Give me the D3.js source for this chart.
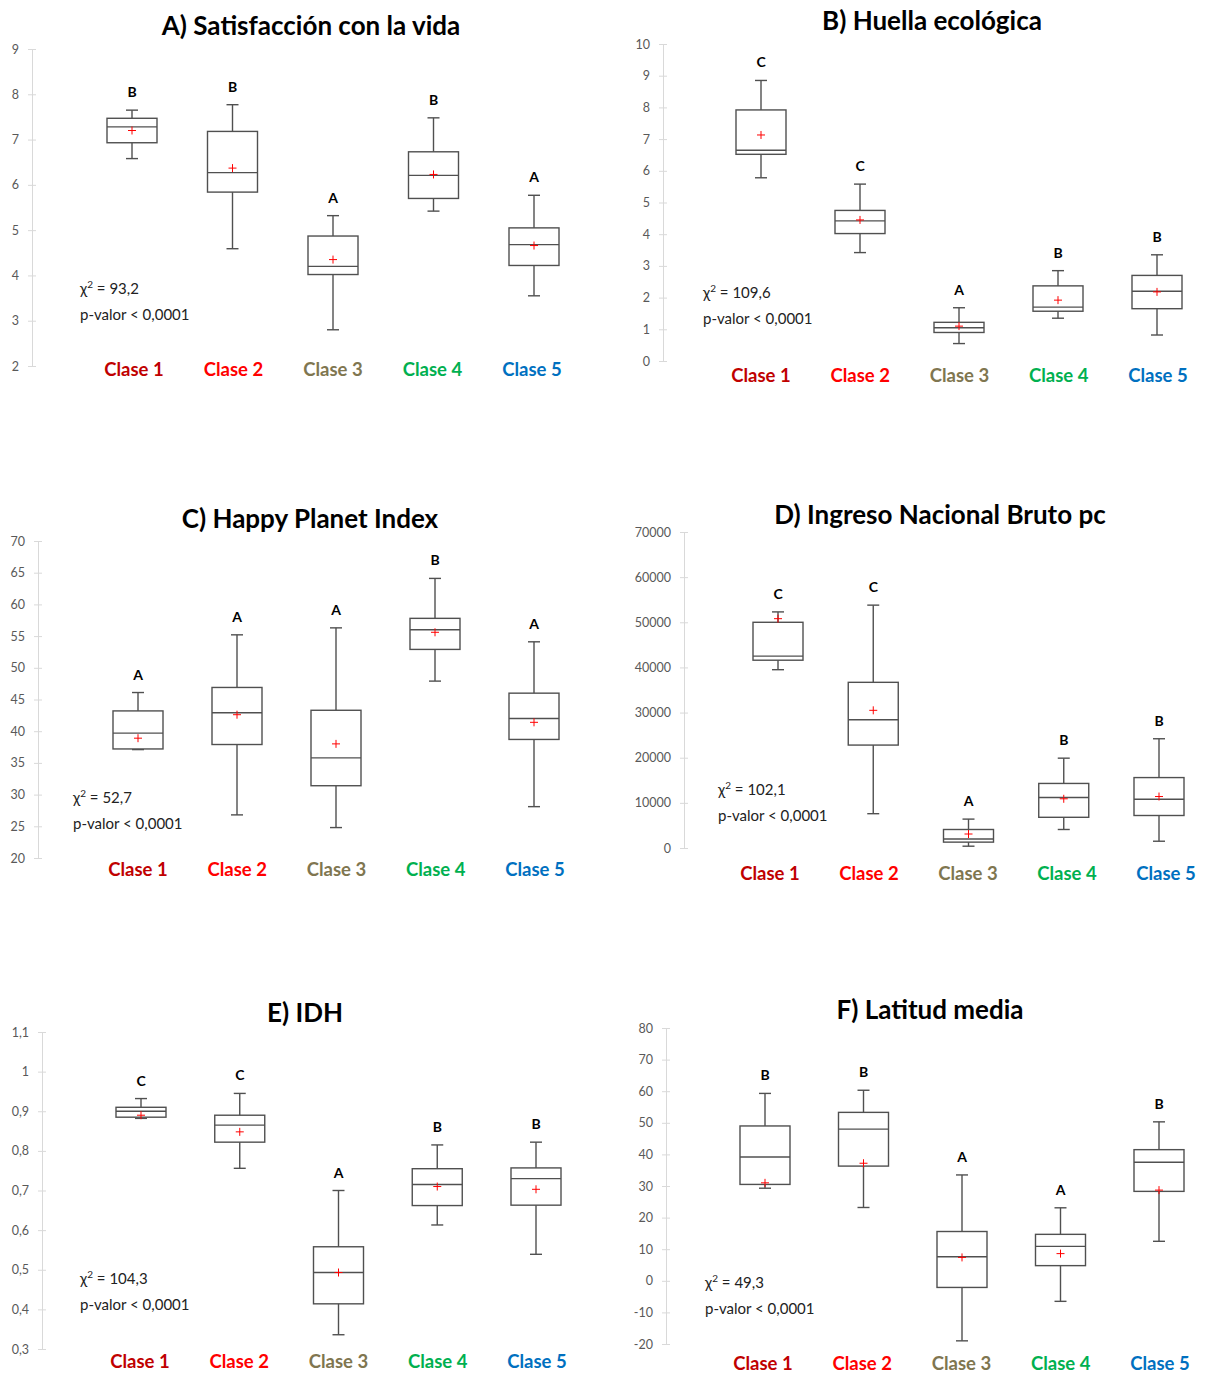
<!DOCTYPE html>
<html>
<head>
<meta charset="utf-8">
<script src="https://cdn.jsdelivr.net/npm/d3@7"></script>
<style>
  body { margin:0; background:#fff; }
  svg text { font-family: Lato, "Open Sans", sans-serif; }
</style>
</head>
<body>
<div id="chart"></div>
<script>
// categories and colours
const clases = ["Clase 1","Clase 2","Clase 3","Clase 4","Clase 5"]
const claseColors = ["#C00000","#FF0000","#7F7650","#00B050","#0070C0"]

const titles = ["A) Satisfacción con la vida","B) Huella ecológica","C) Happy Planet Index",
                "D) Ingreso Nacional Bruto pc","E) IDH","F) Latitud media"]
const chi2 = ["93,2","109,6","52,7","102,1","104,3","49,3"]

// each row: [whisker low, Q1, median, Q3, whisker high, mean]
const satisfaccion = [[6.58,6.93,7.28,7.47,7.65,7.20],[4.59,5.84,6.27,7.18,7.77,6.37],
  [2.80,4.02,4.20,4.87,5.32,4.35],[5.42,5.70,6.21,6.73,7.48,6.23],[3.55,4.22,4.68,5.05,5.77,4.66]]
const huella = [[5.78,6.52,6.65,7.92,8.85,7.13],[3.42,4.02,4.42,4.75,5.58,4.45],
  [0.55,0.90,1.05,1.22,1.68,1.10],[1.35,1.57,1.70,2.37,2.85,1.92],[0.82,1.65,2.20,2.70,3.35,2.18]]
const hpi = [[37.1,37.2,39.7,43.2,46.1,38.9],[26.8,37.9,42.9,46.9,55.2,42.6],
  [24.8,31.4,35.8,43.3,56.3,38.0],[47.9,52.9,56.0,57.8,64.1,55.6],[28.1,38.7,42.0,46.0,54.1,41.4]]
const ingreso = [[39500,41600,42500,50000,52300,50800],[7600,22800,28400,36700,53800,30500],
  [400,1300,2000,4100,6400,3100],[4100,6800,11200,14300,19900,10900],[1500,7200,10800,15600,24200,11400]]
const idh = [[0.882,0.885,0.900,0.910,0.932,0.890],[0.756,0.822,0.865,0.890,0.945,0.848],
  [0.336,0.414,0.493,0.558,0.700,0.493],[0.613,0.662,0.715,0.755,0.815,0.710],[0.539,0.663,0.730,0.757,0.822,0.703]]
const latitud = [[29.3,30.5,39.2,49.0,59.3,31.0],[23.2,36.3,48.0,53.3,60.3,37.2],
  [-19.0,-2.1,7.6,15.6,33.5,7.4],[-6.5,4.8,10.9,14.7,23.1,8.6],[12.5,28.3,37.5,41.5,50.3,28.7]]

// group letters over each box
const letrasA = ["B","B","A","B","A"]
const letrasB = ["C","C","A","B","B"]
const letrasC = ["A","A","A","B","A"]
const letrasD = ["C","C","A","B","B"]
const letrasE = ["C","C","A","B","B"]
const letrasF = ["B","B","A","A","B"]

// tick values
const ticksA = [2,3,4,5,6,7,8,9]
const ticksB = [0,1,2,3,4,5,6,7,8,9,10]
const ticksC = [20,25,30,35,40,45,50,55,60,65,70]
const ticksD = [0,10000,20000,30000,40000,50000,60000,70000]
const ticksE = [0.3,0.4,0.5,0.6,0.7,0.8,0.9,1,1.1]
const ticksF = [-20,-10,0,10,20,30,40,50,60,70,80]

const W = 1205, H = 1374
const svg = d3.select("#chart").append("svg")
  .attr("width", W).attr("height", H)

// layout of the six panels (lab = x range of the category labels)
const panels = [
  {data:satisfaccion, letras:letrasA, ticks:ticksA, ax:32,  yTop:49,   yBot:366,  c:[132,534],  lab:[134,532],  title:[311,35],   labY:376,  chi:[80,294]},
  {data:huella,       letras:letrasB, ticks:ticksB, ax:663, yTop:44,   yBot:361,  c:[761,1157], lab:[761,1158], title:[932,30],   labY:382,  chi:[703,298]},
  {data:hpi,          letras:letrasC, ticks:ticksC, ax:38,  yTop:541,  yBot:858,  c:[138,534],  lab:[138,535],  title:[310,528],  labY:876,  chi:[73,803]},
  {data:ingreso,      letras:letrasD, ticks:ticksD, ax:684, yTop:532,  yBot:848,  c:[778,1159], lab:[770,1166], title:[940,524],  labY:880,  chi:[718,795]},
  {data:idh,          letras:letrasE, ticks:ticksE, ax:42,  yTop:1032, yBot:1349, c:[141,536],  lab:[140,537],  title:[305,1022], labY:1368, chi:[80,1284]},
  {data:latitud,      letras:letrasF, ticks:ticksF, ax:666, yTop:1028, yBot:1344, c:[765,1159], lab:[763,1160], title:[930,1019], labY:1370, chi:[705,1288]}
]

const fmt = v => String(+v.toFixed(2)).replace(".", ",")

panels.forEach((p, i) => {
  const g = svg.append("g")
  const y = d3.scaleLinear()
    .domain([p.ticks[0], p.ticks[p.ticks.length-1]])
    .range([p.yBot, p.yTop])
  const x = d3.scalePoint().domain(clases).range(p.c)
  const xl = d3.scalePoint().domain(clases).range(p.lab)
  const bw = 50, cap = 12

  // title
  g.append("text")
    .attr("x", p.title[0]).attr("y", p.title[1])
    .attr("text-anchor","middle")
    .style("font-size","26px").style("font-weight","bold").style("fill","#000")
    .text(titles[i])

  // y axis
  const ya = g.append("g")
    .attr("transform","translate(" + p.ax + ",0)")
    .call(d3.axisLeft(y).tickValues(p.ticks).tickSize(4).tickSizeOuter(0).tickPadding(9).tickFormat(fmt))
  ya.select(".domain").attr("stroke","#d9d9d9")
  ya.selectAll(".tick line").attr("stroke","#d9d9d9").attr("x2",-4).attr("x1",4)
  ya.selectAll(".tick text")
    .style("font-size","12.5px").style("font-family","Lato, sans-serif").attr("fill","#595959")

  // boxes
  const box = g.selectAll(null).data(p.data).enter().append("g")
    .attr("transform",(d,j) => "translate(" + x(clases[j]) + ",0)")

  box.append("line")
    .attr("x1",0).attr("x2",0)
    .attr("y1",d => y(d[0])).attr("y2",d => y(d[4]))
    .attr("stroke","#505050").attr("stroke-width",1.4)
  box.append("line")
    .attr("x1",-cap/2).attr("x2",cap/2)
    .attr("y1",d => y(d[0])).attr("y2",d => y(d[0]))
    .attr("stroke","#505050").attr("stroke-width",1.4)
  box.append("line")
    .attr("x1",-cap/2).attr("x2",cap/2)
    .attr("y1",d => y(d[4])).attr("y2",d => y(d[4]))
    .attr("stroke","#505050").attr("stroke-width",1.4)
  box.append("rect")
    .attr("x",-bw/2).attr("width",bw)
    .attr("y",d => y(d[3])).attr("height",d => y(d[1]) - y(d[3]))
    .attr("fill","#fff").attr("stroke","#505050").attr("stroke-width",1.4)
  box.append("line")
    .attr("x1",-bw/2).attr("x2",bw/2)
    .attr("y1",d => y(d[2])).attr("y2",d => y(d[2]))
    .attr("stroke","#505050").attr("stroke-width",1.4)
  // mean marker
  box.append("path")
    .attr("transform",d => "translate(0," + y(d[5]) + ")")
    .attr("d","M-4,0H4M0,-4V4")
    .attr("stroke","#FF0000").attr("stroke-width",1)
  // letters
  box.append("text")
    .attr("y",d => y(d[4]) - 13)
    .attr("text-anchor","middle")
    .style("font-size","14px").style("font-weight","bold").style("fill","#000")
    .text((d,j) => p.letras[j])

  // category labels
  g.selectAll(null).data(clases).enter().append("text")
    .attr("x",d => xl(d)).attr("y",p.labY)
    .attr("text-anchor","middle")
    .style("font-size","18.5px").style("font-weight","bold")
    .style("fill",(d,j) => claseColors[j])
    .text(d => d)

  // test stats
  const t1 = g.append("text").attr("x",p.chi[0]).attr("y",p.chi[1])
    .style("font-size","15px").style("fill","#222")
  t1.append("tspan").text("χ")
  t1.append("tspan").attr("dy",-6).style("font-size","10px").text("2")
  t1.append("tspan").attr("dy",6).text(" = " + chi2[i])
  g.append("text").attr("x",p.chi[0]).attr("y",p.chi[1] + 26)
    .style("font-size","15px").style("fill","#222")
    .text("p-valor < 0,0001")
})
</script>
</body>
</html>
